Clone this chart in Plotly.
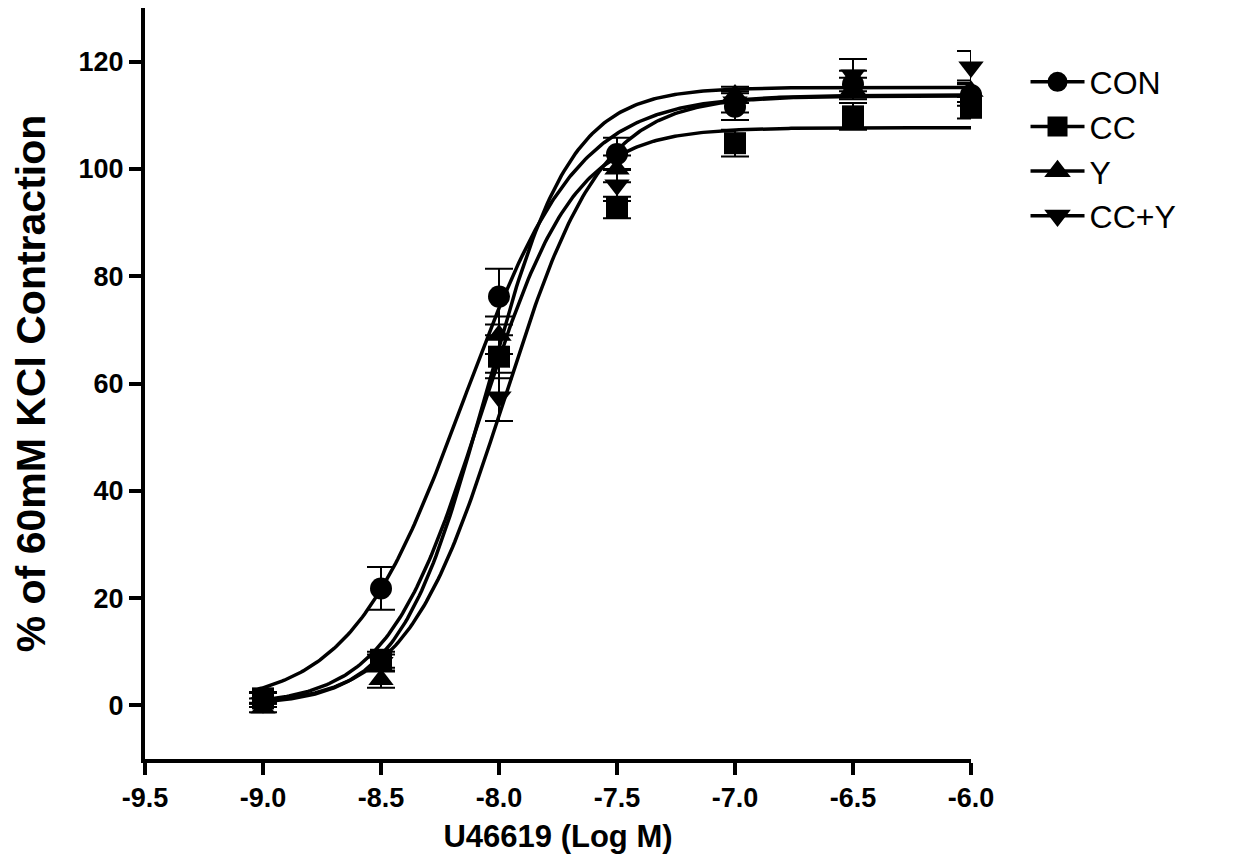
import numpy as np
import plotly.graph_objects as go

# ---- data ----
log_conc = [-9.0, -8.5, -8.0, -7.5, -7.0, -6.5, -6.0]
series_names = ["CON", "CC", "Y", "CC+Y"]
con_vals = [1.5, 21.8, 76.2, 102.8, 111.6, 115.8, 113.8]
con_err = [1.0, 4.0, 5.2, 3.0, 2.5, 2.5, 2.0]
cc_vals = [1.3, 8.5, 65.0, 92.8, 104.8, 109.8, 111.4]
cc_err = [1.0, 1.5, 4.0, 2.0, 2.5, 2.5, 2.0]
y_vals = [-0.5, 4.8, 69.0, 100.0, 113.8, 115.0, 114.5]
y_err = [0.8, 1.5, 3.5, 2.5, 1.5, 2.0, 2.0]
ccy_vals = [0.5, 8.0, 57.5, 97.0, 112.5, 117.5, 119.0]
ccy_err = [0.8, 1.5, 4.5, 3.0, 2.0, 3.0, 3.0]

# sigmoidal fit parameters (bottom, top, logEC50, hill) per series
fit_bottom = [0.0, 0.0, 0.0, 0.0]
fit_top = [113.8, 107.7, 115.2, 113.6]
fit_logec50 = [-8.15, -8.08, -8.06, -7.98]
fit_hill = [1.8, 2.2, 2.4, 2.1]

x_tickvals = [-9.5, -9.0, -8.5, -8.0, -7.5, -7.0, -6.5, -6.0]
x_ticktext = ["-9.5", "-9.0", "-8.5", "-8.0", "-7.5", "-7.0", "-6.5", "-6.0"]
y_tickvals = [0, 20, 40, 60, 80, 100, 120]

symbols = ["circle", "square", "triangle-up", "triangle-down"]
values = [con_vals, cc_vals, y_vals, ccy_vals]
errors = [con_err, cc_err, y_err, ccy_err]

FONT = "Liberation Sans, Arial, sans-serif"

fig = go.Figure()
xc = np.linspace(-9.0, -6.0, 300)
for i in range(4):
    yc = fit_bottom[i] + (fit_top[i] - fit_bottom[i]) / (1 + 10 ** ((fit_logec50[i] - xc) * fit_hill[i]))
    fig.add_trace(go.Scatter(x=xc, y=yc, mode="lines", line=dict(color="black", width=3.5),
                             showlegend=False, hoverinfo="skip", cliponaxis=False))

for i in range(4):
    fig.add_trace(go.Scatter(
        x=log_conc, y=values[i], mode="markers", showlegend=False, cliponaxis=False,
        marker=dict(symbol=symbols[i], size=22, color="black"),
        error_y=dict(type="data", array=errors[i], visible=True, color="black", thickness=2, width=14),
    ))

for i in range(4):
    fig.add_trace(go.Scatter(
        x=[None], y=[None], mode="lines+markers", name=series_names[i], legendgroup=series_names[i],
        line=dict(color="black", width=3.5),
        marker=dict(symbol=symbols[i], size=22, color="black", line=dict(color="black", width=4)),
    ))

fig.update_layout(
    width=1234, height=858,
    paper_bgcolor="white", plot_bgcolor="white",
    margin=dict(l=137, r=271, t=0, b=107),
    font=dict(family=FONT, color="black"),
    showlegend=True,
    legend=dict(x=1.066, y=0.938, xanchor="left", yanchor="top", traceorder="grouped",
                tracegroupgap=0, itemwidth=54,
                font=dict(family=FONT, size=32, color="black")),
    xaxis=dict(range=[-9.5, -6.0], tickvals=x_tickvals, ticktext=x_ticktext,
               showline=True, linecolor="black", linewidth=4, ticks="outside", ticklen=12,
               tickwidth=4, tickcolor="black", showgrid=False, zeroline=False,
               tickfont=dict(family=FONT, size=27, color="black", weight="bold"),
               title=dict(text="<b>U46619 (Log M)</b>", font=dict(family=FONT, size=31, color="black"), standoff=14)),
    yaxis=dict(range=[-10, 130], tickvals=y_tickvals,
               showline=True, linecolor="black", linewidth=4, ticks="outside", ticklen=12,
               tickwidth=4, tickcolor="black", showgrid=False, zeroline=False,
               tickfont=dict(family=FONT, size=27, color="black", weight="bold"),
               title=dict(text="<b>% of 60mM KCl Contraction</b>", font=dict(family=FONT, size=41, color="black"), standoff=26)),
)

fig.write_html("out.html")
